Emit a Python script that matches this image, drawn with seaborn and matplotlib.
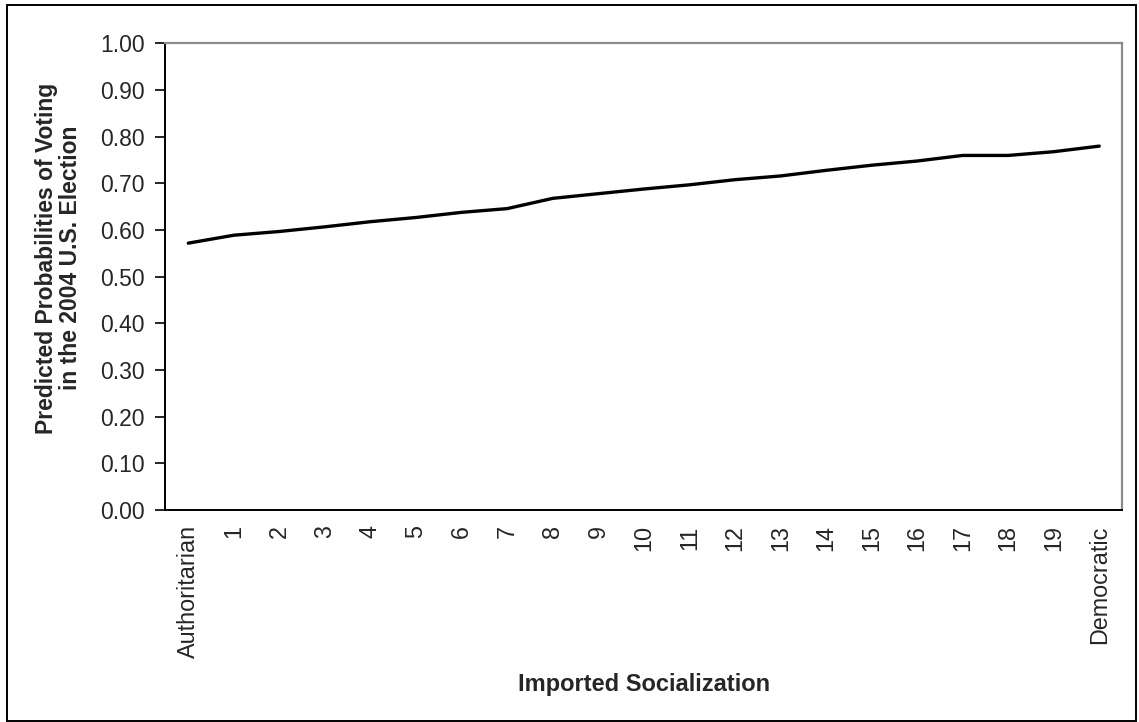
import matplotlib
matplotlib.use("Agg")
import matplotlib.pyplot as plt
import matplotlib.patches as patches
import seaborn as sns
import pandas as pd

# x categories and predicted probabilities
categories = ["Authoritarian"] + [str(i) for i in range(1, 20)] + ["Democratic"]
probabilities = [0.572, 0.589, 0.597, 0.607, 0.618, 0.627, 0.638, 0.646, 0.668,
                 0.678, 0.688, 0.697, 0.708, 0.716, 0.728, 0.739, 0.748, 0.760,
                 0.760, 0.768, 0.780]
y_ticks = [0.0, 0.1, 0.2, 0.3, 0.4, 0.5, 0.6, 0.7, 0.8, 0.9, 1.0]

df = pd.DataFrame({"category": categories, "prob": probabilities})

sns.set_style("white")
plt.rcParams["font.family"] = ["Liberation Sans", "DejaVu Sans"]

fig = plt.figure(figsize=(11.39, 7.22), dpi=100)
ax = fig.add_axes([0.1453, 0.2936, 0.8398, 0.6462])

sns.lineplot(data=df, x="category", y="prob", sort=False, color="black",
             linewidth=2.4, ax=ax)

# axes limits and ticks
n = len(categories)
ax.set_xlim(-0.5, n - 0.5)
ax.set_ylim(0, 1)
ax.set_yticks(y_ticks)
ax.set_yticklabels([f"{v:.2f}" for v in y_ticks], fontsize=16.5)
ax.set_xticks(range(n))
ax.set_xticklabels(categories, rotation=90, fontsize=16.8, va="top")
ax.set_xticks([i - 0.5 for i in range(n + 1)], minor=True)
ax.tick_params(axis="x", which="major", length=0, pad=11)
ax.tick_params(axis="x", which="minor", length=6, width=1.2, color="black")
ax.tick_params(axis="y", which="major", length=7, width=1.2, color="black", pad=8,
               left=True)
ax.grid(False)

# plot-area border: black axes, grey frame
for side in ["top", "right"]:
    ax.spines[side].set_color("#8c8c8c")
    ax.spines[side].set_linewidth(1.6)
for side in ["left", "bottom"]:
    ax.spines[side].set_color("black")
    ax.spines[side].set_linewidth(1.4)

ax.set_xlabel("Imported Socialization", fontsize=17, fontweight="bold")
ax.xaxis.set_label_coords(0.5, -0.35)
ax.set_ylabel("Predicted Probabilities of Voting\nin the 2004 U.S. Election",
              fontsize=16.5, fontweight="bold", linespacing=1.05)
ax.yaxis.set_label_coords(-0.087, 0.54)

# outer chart border
fig.patches.append(patches.Rectangle((7 / 1139, 1 / 722), 1129 / 1139, 716 / 722,
                                     transform=fig.transFigure, fill=False,
                                     edgecolor="black", linewidth=1.4))

fig.savefig("out.png", dpi=100)
